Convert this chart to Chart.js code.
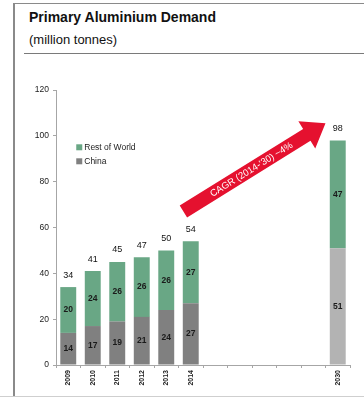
<!DOCTYPE html>
<html>
<head>
<meta charset="utf-8">
<script src="https://cdn.jsdelivr.net/npm/chart.js@4.4.0/dist/chart.umd.min.js"></script>
<style>
  html, body { margin: 0; padding: 0; background: #fff; }
  #wrap { position: relative; width: 364px; height: 399px; overflow: hidden; font-family: "Liberation Sans", Arial, sans-serif; }
  #frame-left { position: absolute; left: 13px; top: 3px; width: 2px; height: 394px; background: #8a8a8a; }
  #frame-top { position: absolute; left: 13px; top: 3px; width: 351px; height: 1px; background: #8a8a8a; }
  #frame-bottom { position: absolute; left: 0; top: 396px; width: 364px; height: 1px; background: #cfcfcf; }
  #rule { position: absolute; left: 24px; top: 53px; width: 340px; height: 1px; background: #7a7a7a; }
  #title { position: absolute; left: 29px; top: 9px; font-size: 14px; font-weight: bold; color: #111; }
  #sub { position: absolute; left: 29px; top: 32px; font-size: 13px; color: #111; }
  #chart { position: absolute; left: 0; top: 0; }
</style>
</head>
<body>
<div id="wrap">
  <div id="frame-left"></div>
  <div id="frame-top"></div>
  <div id="frame-bottom"></div>
  <div id="rule"></div>
  <div id="title">Primary Aluminium Demand</div>
  <div id="sub">(million tonnes)</div>
  <canvas id="chart" width="364" height="399"></canvas>
</div>
<script>
// 年份（中間空白格保留 2015–2029 的間距）
const years = ["2009", "2010", "2011", "2012", "2013", "2014", "", "", "", "", "", "2030"]
const china = [14, 17, 19, 21, 24, 27, null, null, null, null, null, 51]
const restOfWorld = [20, 24, 26, 26, 26, 27, null, null, null, null, null, 47]
const yTicks = [0, 20, 40, 60, 80, 100, 120]
const cagrText = "CAGR (2014-’30) ~4%"

const GREEN = "#69a785"
const GREY = "#808080"
const LIGHT_GREY = "#b3b3b3"
const FONT = "'Liberation Sans', Arial, sans-serif"

const chinaColors = years.map(y => y === "2030" ? LIGHT_GREY : GREY)

// 柱內數字與柱頂合計
const valueLabels = {
  id: "valueLabels",
  afterDatasetsDraw(chart) {
    const ctx = chart.ctx
    ctx.save()
    ctx.textAlign = "center"
    ctx.textBaseline = "middle"
    chart.data.datasets.forEach((ds, di) => {
      const meta = chart.getDatasetMeta(di)
      meta.data.forEach((bar, i) => {
        const v = ds.data[i]
        if (v == null) return
        ctx.font = "bold 8.5px " + FONT
        ctx.fillStyle = "#1a1a1a"
        ctx.fillText(v, bar.x, (bar.y + bar.base) / 2)
      })
    })
    const top = chart.getDatasetMeta(1)
    ctx.font = "9px " + FONT
    ctx.fillStyle = "#111"
    top.data.forEach((bar, i) => {
      if (china[i] == null) return
      ctx.fillText(china[i] + restOfWorld[i], bar.x, bar.y - 12)
    })
    ctx.restore()
  }
}

// 圖例（放在圖內左上）
const innerLegend = {
  id: "innerLegend",
  afterDraw(chart) {
    const ctx = chart.ctx
    const x = chart.scales.x.getPixelForValue(0) + 8
    const items = [["Rest of World", GREEN], ["China", GREY]]
    ctx.save()
    ctx.font = "8.5px " + FONT
    ctx.textBaseline = "middle"
    items.forEach(([label, color], k) => {
      const y = chart.scales.y.getPixelForValue(95) + k * 14
      ctx.fillStyle = color
      ctx.fillRect(x, y - 3, 6, 6)
      ctx.fillStyle = "#222"
      ctx.fillText(label, x + 8, y)
    })
    ctx.restore()
  }
}

// 紅色年均增長箭頭
const cagrArrow = {
  id: "cagrArrow",
  afterDraw(chart) {
    const { x: xs, y: ys } = chart.scales
    const x0 = xs.getPixelForValue(4.7), y0 = ys.getPixelForValue(67)
    const x1 = xs.getPixelForValue(10.5), y1 = ys.getPixelForValue(105.5)
    const ang = Math.atan2(y1 - y0, x1 - x0)
    const len = Math.hypot(x1 - x0, y1 - y0)
    const half = 7, headHalf = 16, headLen = 22
    const ctx = chart.ctx
    ctx.save()
    ctx.translate(x0, y0)
    ctx.rotate(ang)
    ctx.fillStyle = "#e5112f"
    ctx.beginPath()
    ctx.moveTo(0, -half)
    ctx.lineTo(len - headLen, -half)
    ctx.lineTo(len - headLen, -headHalf)
    ctx.lineTo(len, 0)
    ctx.lineTo(len - headLen, headHalf)
    ctx.lineTo(len - headLen, half)
    ctx.lineTo(0, half)
    ctx.closePath()
    ctx.fill()
    ctx.fillStyle = "#fff"
    ctx.font = "9.5px " + FONT
    ctx.textAlign = "center"
    ctx.textBaseline = "middle"
    ctx.fillText(cagrText, 80, 0.5)
    ctx.restore()
  }
}

new Chart(document.getElementById("chart"), {
  type: "bar",
  data: {
    labels: years,
    datasets: [
      { label: "China", data: china, backgroundColor: chinaColors, borderWidth: 0 },
      { label: "Rest of World", data: restOfWorld, backgroundColor: GREEN, borderWidth: 0 }
    ]
  },
  options: {
    responsive: false,
    animation: false,
    events: [],
    layout: { padding: { top: 90, right: 14, left: 0, bottom: 0 } },
    datasets: { bar: { categoryPercentage: 1, barPercentage: 0.65 } },
    plugins: { legend: { display: false }, tooltip: { enabled: false } },
    scales: {
      x: {
        stacked: true,
        afterFit(s) { s.height = 34 },
        border: { color: "#a6a6a6" },
        grid: { drawOnChartArea: false, tickLength: 3, color: "#a6a6a6", offset: true },
        ticks: {
          autoSkip: false, minRotation: 90, maxRotation: 90, padding: 2,
          color: "#222", font: { family: FONT, size: 7, weight: "bold" }
        }
      },
      y: {
        stacked: true,
        min: 0, max: 120,
        afterFit(s) { s.width = 56 },
        afterBuildTicks(s) { s.ticks = yTicks.map(v => ({ value: v })) },
        border: { color: "#a6a6a6" },
        grid: { drawOnChartArea: false, tickLength: 3, color: "#a6a6a6" },
        ticks: { padding: 4, color: "#222", font: { family: FONT, size: 8.5 } }
      }
    }
  },
  plugins: [valueLabels, innerLegend, cagrArrow]
})
</script>
</body>
</html>
